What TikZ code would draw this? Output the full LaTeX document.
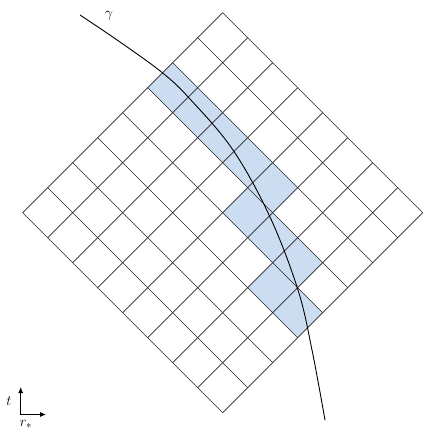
\documentclass[tikz,border=0pt]{standalone}
\usetikzlibrary{arrows.meta}
\definecolor{cellblue}{RGB}{204,221,241}
\tikzset{
  gridline/.style={black!85,line width=0.7pt},
  worldline/.style={black,line width=0.9pt},
  axisarrow/.style={-{Latex[length=6pt,width=5pt]},line width=0.9pt},
  axislabel/.style={font=\fontsize{15}{18}\selectfont,inner sep=1pt},
}
\begin{document}
\begin{tikzpicture}[x=1pt,y=-1pt]
  \useasboundingbox (0,0) rectangle (424,432);

  \begin{scope}[shift={(222.7,12.7)},x={(25pt,-25pt)},y={(-25pt,-25pt)}]
    \fill[cellblue] (0,2) -- (5,2) -- (5,3) -- (7,3) -- (7,4) -- (8,4) -- (8,5)
      -- (6,5) -- (6,4) -- (4,4) -- (4,3) -- (0,3) -- cycle;
    \foreach \k in {0,...,8} {
      \draw[gridline] (\k,0) -- (\k,8);
      \draw[gridline] (0,\k) -- (8,\k);
    }
  \end{scope}

  \draw[worldline] plot[smooth,tension=0.6] coordinates {(80,15) (120,42) (162.7,73)
    (190,99) (233,150) (270,217) (298,290) (312,350) (325,420)};
  \node[axislabel] (gamma) at (109,16) {$\gamma$};

  \coordinate (corner) at (20.7,414.5);
  \coordinate (tend) at (20.7,387);
  \coordinate (rend) at (46,414.5);
  \draw[axisarrow] (corner) -- (tend);
  \draw[axisarrow] (corner) -- (rend);
  \node[axislabel] (tlabel) at (9,401) {$t$};
  \node[axislabel] (rlabel) at (26,424.5) {$r_*$};
\end{tikzpicture}
\end{document}
